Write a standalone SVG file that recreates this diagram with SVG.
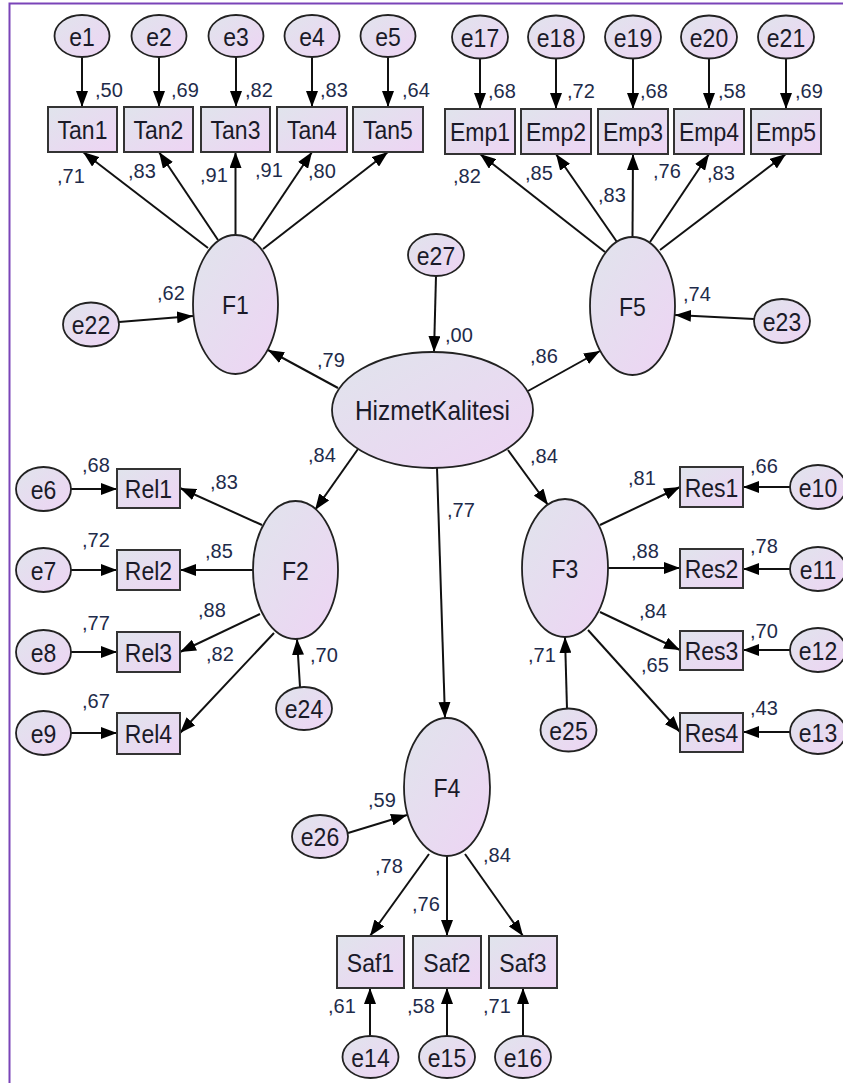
<svg xmlns="http://www.w3.org/2000/svg" width="843" height="1083" viewBox="0 0 843 1083">
<defs>
<linearGradient id="g" x1="0" y1="0" x2="1" y2="1">
<stop offset="0" stop-color="#e0e4ec"/>
<stop offset="1" stop-color="#eed4f4"/>
</linearGradient>
<marker id="ah" viewBox="0 0 16 12" refX="16" refY="6" markerWidth="16" markerHeight="12" markerUnits="userSpaceOnUse" orient="auto">
<path d="M0,0 L16,6 L0,12 z" fill="#000"/>
</marker>
</defs>
<style>
g > ellipse{fill:url(#g);stroke:#222;stroke-width:1.8}
g > rect{fill:url(#g);stroke:#333;stroke-width:2}
.n{font-family:"Liberation Sans",Arial,sans-serif;font-size:23px;fill:#1a1a28;text-anchor:middle;transform-box:fill-box;transform-origin:center;transform:scaleY(1.13)}
.c{font-family:"Liberation Sans",Arial,sans-serif;font-size:20px;fill:#1e2b4a}
#connectors line{stroke:#111;stroke-width:2;marker-end:url(#ah)}
</style>
<rect width="843" height="1083" fill="#ffffff"/>
<path d="M843,3.5 H9.5 V1083" fill="none" stroke="#7a44b8" stroke-width="2"/>

<g id="connectors">
<line x1="82" y1="57" x2="82" y2="107"/>
<line x1="159" y1="57" x2="159" y2="107"/>
<line x1="236" y1="57" x2="236" y2="107"/>
<line x1="312" y1="57" x2="312" y2="107"/>
<line x1="388" y1="57" x2="388" y2="107"/>
<line x1="480" y1="58" x2="480" y2="109"/>
<line x1="556" y1="58" x2="556" y2="109"/>
<line x1="633" y1="58" x2="633" y2="109"/>
<line x1="709" y1="58" x2="709" y2="109"/>
<line x1="786" y1="58" x2="786" y2="109"/>
<line x1="208" y1="248" x2="83" y2="152"/>
<line x1="218" y1="240" x2="159" y2="152"/>
<line x1="235.5" y1="235" x2="235.5" y2="152"/>
<line x1="253" y1="240" x2="312" y2="152"/>
<line x1="263" y1="249" x2="388" y2="152"/>
<line x1="605" y1="252" x2="480" y2="154"/>
<line x1="617" y1="242" x2="556" y2="154"/>
<line x1="632.5" y1="237" x2="633" y2="154"/>
<line x1="650" y1="242" x2="709" y2="154"/>
<line x1="660" y1="250" x2="786" y2="154"/>
<line x1="119" y1="322" x2="193" y2="316"/>
<line x1="754" y1="319" x2="675" y2="315"/>
<line x1="436" y1="276" x2="434" y2="352"/>
<line x1="338" y1="388" x2="268" y2="350"/>
<line x1="528" y1="391" x2="600" y2="351"/>
<line x1="358" y1="449" x2="315" y2="510"/>
<line x1="508" y1="450" x2="548" y2="505"/>
<line x1="437" y1="468" x2="445" y2="718"/>
<line x1="262" y1="525" x2="180" y2="488"/>
<line x1="253" y1="570" x2="180" y2="570"/>
<line x1="260" y1="614" x2="180" y2="652"/>
<line x1="274" y1="633" x2="180" y2="733"/>
<line x1="71" y1="489" x2="117" y2="489"/>
<line x1="71" y1="570" x2="117" y2="570"/>
<line x1="71" y1="652" x2="117" y2="652"/>
<line x1="71" y1="733" x2="117" y2="733"/>
<line x1="300" y1="687" x2="297" y2="639"/>
<line x1="600" y1="525" x2="680" y2="487"/>
<line x1="608" y1="568" x2="680" y2="568"/>
<line x1="600" y1="612" x2="680" y2="650"/>
<line x1="588" y1="630" x2="680" y2="732"/>
<line x1="790" y1="487" x2="743" y2="487"/>
<line x1="790" y1="569" x2="743" y2="569"/>
<line x1="790" y1="650" x2="743" y2="650"/>
<line x1="790" y1="732" x2="743" y2="732"/>
<line x1="567" y1="709" x2="565" y2="637"/>
<line x1="348" y1="833" x2="407" y2="815"/>
<line x1="429" y1="854" x2="370" y2="936"/>
<line x1="447" y1="856" x2="447" y2="936"/>
<line x1="465" y1="854" x2="523" y2="936"/>
<line x1="370" y1="1037" x2="370" y2="988"/>
<line x1="447" y1="1037" x2="447" y2="988"/>
<line x1="523" y1="1037" x2="523" y2="988"/>
</g>

<g id="e1"><ellipse cx="82" cy="36" rx="27.5" ry="21"/><text class="n" x="82" y="44.5">e1</text></g>
<g id="e2"><ellipse cx="159" cy="36" rx="27.5" ry="21"/><text class="n" x="159" y="44.5">e2</text></g>
<g id="e3"><ellipse cx="236" cy="36" rx="27.5" ry="21"/><text class="n" x="236" y="44.5">e3</text></g>
<g id="e4"><ellipse cx="312" cy="36" rx="27.5" ry="21"/><text class="n" x="312" y="44.5">e4</text></g>
<g id="e5"><ellipse cx="388" cy="36" rx="27.5" ry="21"/><text class="n" x="388" y="44.5">e5</text></g>
<g id="Tan1"><rect x="48" y="107" width="69" height="45"/><text class="n" x="82.5" y="138">Tan1</text></g>
<g id="Tan2"><rect x="124" y="107" width="69" height="45"/><text class="n" x="158.5" y="138">Tan2</text></g>
<g id="Tan3"><rect x="201" y="107" width="69" height="45"/><text class="n" x="235.5" y="138">Tan3</text></g>
<g id="Tan4"><rect x="277" y="107" width="70" height="45"/><text class="n" x="312" y="138">Tan4</text></g>
<g id="Tan5"><rect x="353" y="107" width="70" height="45"/><text class="n" x="388" y="138">Tan5</text></g>

<g id="e17"><ellipse cx="480" cy="37" rx="28" ry="21.5"/><text class="n" x="480" y="45.5">e17</text></g>
<g id="e18"><ellipse cx="556" cy="37" rx="28" ry="21.5"/><text class="n" x="556" y="45.5">e18</text></g>
<g id="e19"><ellipse cx="633" cy="37" rx="28" ry="21.5"/><text class="n" x="633" y="45.5">e19</text></g>
<g id="e20"><ellipse cx="709" cy="37" rx="28" ry="21.5"/><text class="n" x="709" y="45.5">e20</text></g>
<g id="e21"><ellipse cx="786" cy="37" rx="28" ry="21.5"/><text class="n" x="786" y="45.5">e21</text></g>
<g id="Emp1"><rect x="445" y="109" width="70" height="45"/><text class="n" x="480" y="140">Emp1</text></g>
<g id="Emp2"><rect x="521" y="109" width="70" height="45"/><text class="n" x="556" y="140">Emp2</text></g>
<g id="Emp3"><rect x="598" y="109" width="70" height="45"/><text class="n" x="633" y="140">Emp3</text></g>
<g id="Emp4"><rect x="674" y="109" width="70" height="45"/><text class="n" x="709" y="140">Emp4</text></g>
<g id="Emp5"><rect x="751" y="109" width="70" height="45"/><text class="n" x="786" y="140">Emp5</text></g>

<g id="F1"><ellipse cx="235.5" cy="304.5" rx="42.5" ry="69.5"/><text class="n" x="235.5" y="313">F1</text></g>
<g id="F5"><ellipse cx="632.5" cy="306" rx="42.5" ry="69"/><text class="n" x="632.5" y="314.5">F5</text></g>
<g id="e22"><ellipse cx="91" cy="324.5" rx="28" ry="22"/><text class="n" x="91" y="333">e22</text></g>
<g id="e23"><ellipse cx="782" cy="321" rx="28" ry="22"/><text class="n" x="782" y="329.5">e23</text></g>
<g id="e27"><ellipse cx="436" cy="255" rx="28" ry="21"/><text class="n" x="436" y="263.5">e27</text></g>
<g id="HizmetKalitesi"><ellipse cx="432.5" cy="410" rx="100.5" ry="58"/><text class="n" x="432.5" y="419" style="font-size:24.5px">HizmetKalitesi</text></g>

<g id="F2"><ellipse cx="295.5" cy="570" rx="42.5" ry="69"/><text class="n" x="295.5" y="578.5">F2</text></g>
<g id="Rel1"><rect x="117" y="469" width="63" height="39"/><text class="n" x="148.5" y="497">Rel1</text></g>
<g id="Rel2"><rect x="117" y="550" width="63" height="40"/><text class="n" x="148.5" y="578.5">Rel2</text></g>
<g id="Rel3"><rect x="117" y="632" width="63" height="40"/><text class="n" x="148.5" y="660.5">Rel3</text></g>
<g id="Rel4"><rect x="117" y="713" width="63" height="41"/><text class="n" x="148.5" y="742">Rel4</text></g>
<g id="e6"><ellipse cx="43.5" cy="489" rx="27.5" ry="22"/><text class="n" x="43.5" y="497.5">e6</text></g>
<g id="e7"><ellipse cx="43.5" cy="570" rx="27.5" ry="22"/><text class="n" x="43.5" y="578.5">e7</text></g>
<g id="e8"><ellipse cx="43.5" cy="652" rx="27.5" ry="22"/><text class="n" x="43.5" y="660.5">e8</text></g>
<g id="e9"><ellipse cx="43.5" cy="733" rx="27.5" ry="22"/><text class="n" x="43.5" y="741.5">e9</text></g>
<g id="e24"><ellipse cx="304" cy="708.5" rx="28" ry="21.5"/><text class="n" x="304" y="717">e24</text></g>

<g id="F3"><ellipse cx="565" cy="568" rx="43" ry="69"/><text class="n" x="565" y="576.5">F3</text></g>
<g id="Res1"><rect x="680" y="467" width="63" height="40"/><text class="n" x="711.5" y="495.5">Res1</text></g>
<g id="Res2"><rect x="680" y="549" width="63" height="39"/><text class="n" x="711.5" y="577">Res2</text></g>
<g id="Res3"><rect x="680" y="631" width="63" height="39"/><text class="n" x="711.5" y="659">Res3</text></g>
<g id="Res4"><rect x="680" y="713" width="63" height="39"/><text class="n" x="711.5" y="741">Res4</text></g>
<g id="e10"><ellipse cx="818" cy="487" rx="28" ry="22"/><text class="n" x="818" y="495.5">e10</text></g>
<g id="e11"><ellipse cx="818" cy="569" rx="28" ry="22"/><text class="n" x="818" y="577.5">e11</text></g>
<g id="e12"><ellipse cx="818" cy="650" rx="28" ry="22"/><text class="n" x="818" y="658.5">e12</text></g>
<g id="e13"><ellipse cx="818" cy="732" rx="28" ry="22"/><text class="n" x="818" y="740.5">e13</text></g>
<g id="e25"><ellipse cx="568.5" cy="730" rx="28" ry="21.5"/><text class="n" x="568.5" y="738.5">e25</text></g>

<g id="F4"><ellipse cx="447" cy="787" rx="43" ry="69"/><text class="n" x="447" y="795.5">F4</text></g>
<g id="e26"><ellipse cx="320" cy="836.5" rx="28" ry="21.5"/><text class="n" x="320" y="845">e26</text></g>
<g id="Saf1"><rect x="337" y="936" width="67" height="52"/><text class="n" x="370.5" y="970.5">Saf1</text></g>
<g id="Saf2"><rect x="413" y="936" width="68" height="52"/><text class="n" x="447" y="970.5">Saf2</text></g>
<g id="Saf3"><rect x="489" y="936" width="68" height="52"/><text class="n" x="523" y="970.5">Saf3</text></g>
<g id="e14"><ellipse cx="370.5" cy="1057" rx="28" ry="21"/><text class="n" x="370.5" y="1065.5">e14</text></g>
<g id="e15"><ellipse cx="447" cy="1057" rx="28" ry="21"/><text class="n" x="447" y="1065.5">e15</text></g>
<g id="e16"><ellipse cx="523" cy="1057" rx="28" ry="21"/><text class="n" x="523" y="1065.5">e16</text></g>

<g id="labels">
<text class="c" x="95" y="97">,50</text>
<text class="c" x="171" y="97">,69</text>
<text class="c" x="245" y="97">,82</text>
<text class="c" x="320" y="97">,83</text>
<text class="c" x="402" y="97">,64</text>
<text class="c" x="488" y="98">,68</text>
<text class="c" x="567" y="98">,72</text>
<text class="c" x="640" y="98">,68</text>
<text class="c" x="718" y="98">,58</text>
<text class="c" x="795" y="98">,69</text>
<text class="c" x="57" y="183">,71</text>
<text class="c" x="128" y="178">,83</text>
<text class="c" x="200" y="182">,91</text>
<text class="c" x="255" y="177">,91</text>
<text class="c" x="308" y="178">,80</text>
<text class="c" x="453" y="183">,82</text>
<text class="c" x="525" y="180">,85</text>
<text class="c" x="598" y="202">,83</text>
<text class="c" x="653" y="178">,76</text>
<text class="c" x="707" y="180">,83</text>
<text class="c" x="157" y="300">,62</text>
<text class="c" x="683" y="301">,74</text>
<text class="c" x="445" y="342">,00</text>
<text class="c" x="317" y="367">,79</text>
<text class="c" x="530" y="363">,86</text>
<text class="c" x="308" y="462">,84</text>
<text class="c" x="530" y="463">,84</text>
<text class="c" x="447" y="517">,77</text>
<text class="c" x="82" y="472">,68</text>
<text class="c" x="82" y="547">,72</text>
<text class="c" x="82" y="630">,77</text>
<text class="c" x="82" y="708">,67</text>
<text class="c" x="210" y="489">,83</text>
<text class="c" x="205" y="558">,85</text>
<text class="c" x="198" y="617">,88</text>
<text class="c" x="206" y="661">,82</text>
<text class="c" x="310" y="662">,70</text>
<text class="c" x="750" y="473">,66</text>
<text class="c" x="750" y="553">,78</text>
<text class="c" x="750" y="638">,70</text>
<text class="c" x="750" y="715">,43</text>
<text class="c" x="628" y="485">,81</text>
<text class="c" x="631" y="558">,88</text>
<text class="c" x="639" y="618">,84</text>
<text class="c" x="641" y="672">,65</text>
<text class="c" x="528" y="662">,71</text>
<text class="c" x="368" y="807">,59</text>
<text class="c" x="375" y="873">,78</text>
<text class="c" x="412" y="911">,76</text>
<text class="c" x="483" y="862">,84</text>
<text class="c" x="328" y="1013">,61</text>
<text class="c" x="407" y="1013">,58</text>
<text class="c" x="483" y="1013">,71</text>
</g>
</svg>
